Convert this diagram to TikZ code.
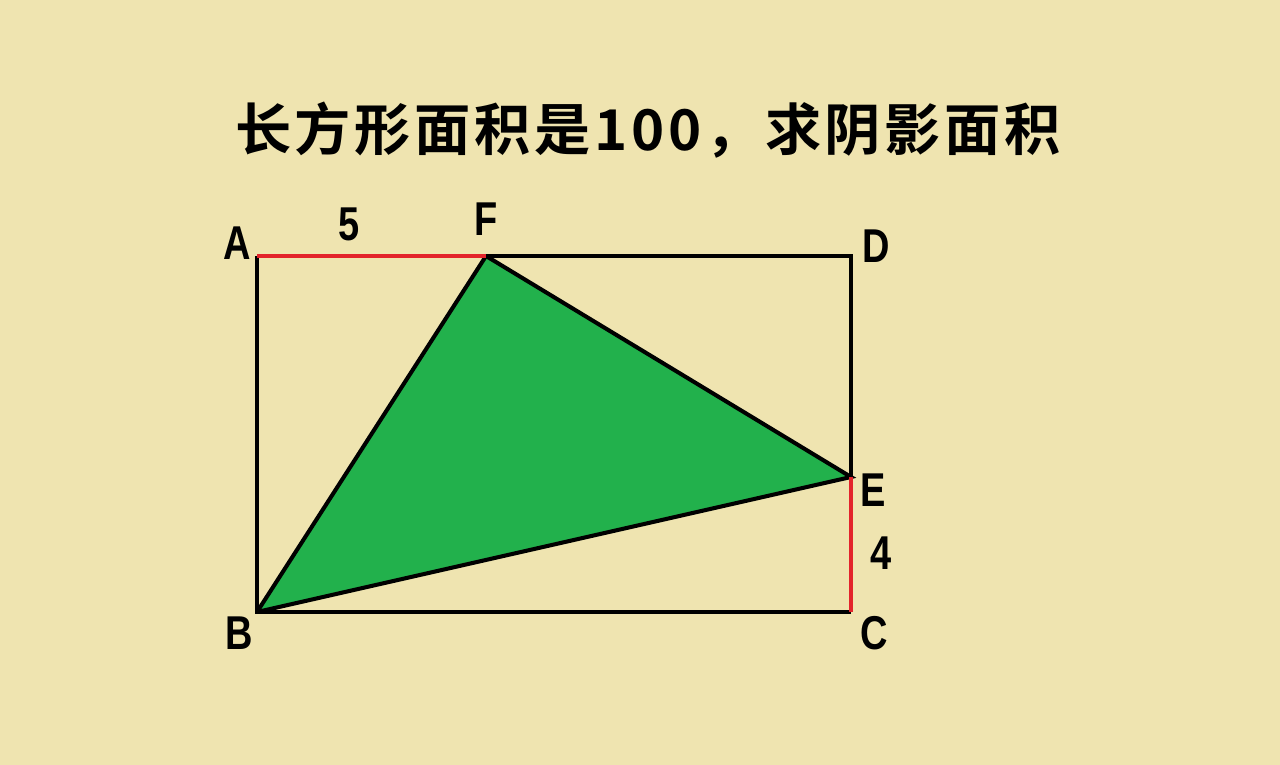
\documentclass[tikz,border=0pt]{standalone}
\usepackage{fontspec}
\newfontfamily\cjk{Noto Sans CJK SC}[BoldFont={* Bold}, LetterSpace=6.5]
\newfontfamily\lab{Liberation Sans}[FakeStretch=0.8]
\definecolor{paper}{HTML}{EFE4B0}
\definecolor{leaf}{HTML}{22B14C}
\definecolor{redline}{HTML}{E3242B}
\begin{document}
\begin{tikzpicture}[x=0.01cm,y=-0.01cm,
  pt/.style={inner sep=0pt, font=\lab\bfseries\fontsize{13.5}{15}\selectfont},
  edge/.style={line width=1.15pt, black}]
\fill[paper] (0,0) rectangle (1280,765);
\node[font=\cjk\bfseries\fontsize{16}{18}\selectfont] (title) at (648,130) {长方形面积是100，求阴影面积};

\coordinate (A) at (257,256);
\coordinate (B) at (257,612);
\coordinate (C) at (851,612);
\coordinate (D) at (851,256);
\coordinate (E) at (851,477);
\coordinate (F) at (486,256);

\fill[leaf] (F) -- (E) -- (B) -- cycle;
\draw[edge] (F) -- (D) -- (E);
\draw[edge] (C) -- (B) -- (A);
\draw[edge] (B) -- (F);
\draw[edge] (F) -- (E) -- (B);
\draw[edge, redline] (A) -- (F);
\draw[edge, redline] (E) -- (C);

\node[pt] (lA) at (237,243) {A};
\node[pt] (lF) at (486,219) {F};
\node[pt] (lD) at (876,246) {D};
\node[pt] (lE) at (873,490) {E};
\node[pt] (lC) at (874,633) {C};
\node[pt] (lB) at (239,633) {B};
\node[pt] (l5) at (349,224) {5};
\node[pt] (l4) at (881,553) {4};
\end{tikzpicture}
\end{document}
